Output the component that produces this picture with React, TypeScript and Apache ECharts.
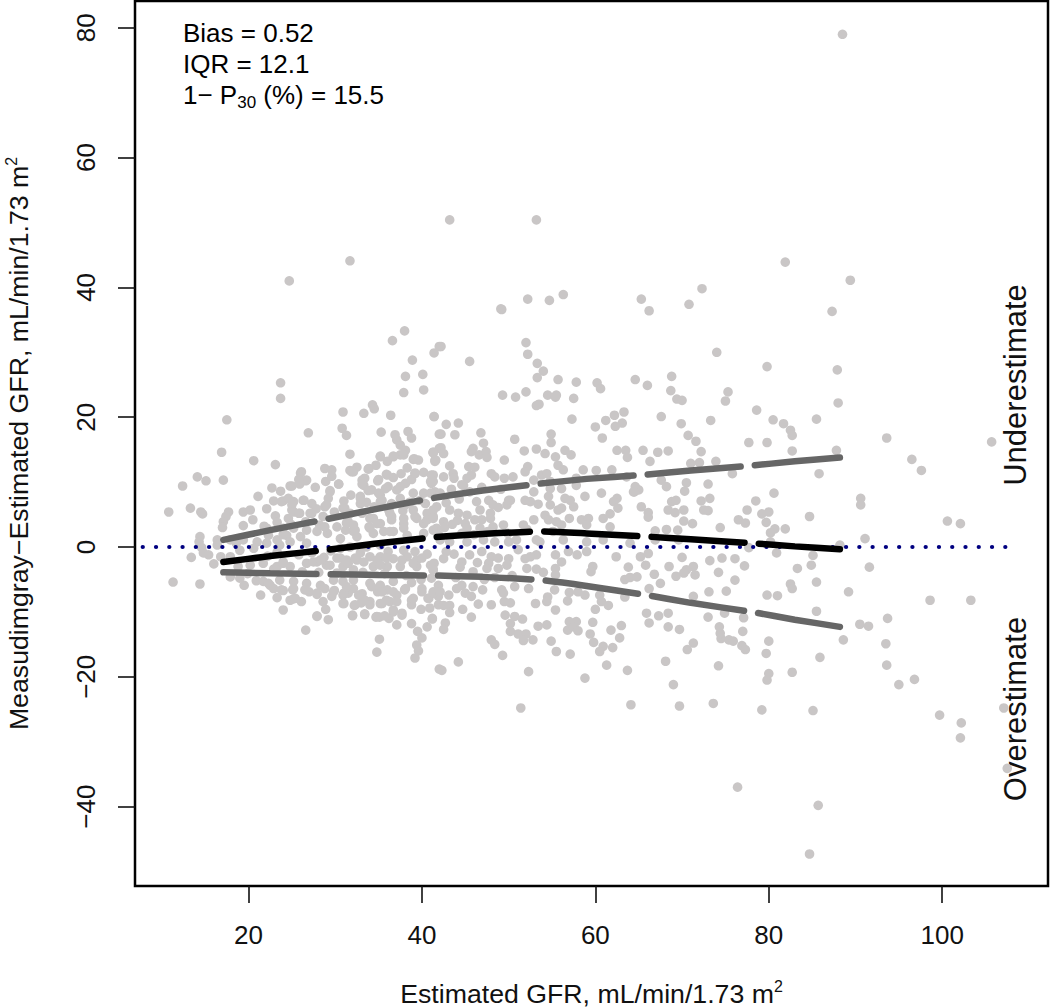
import React, { useEffect, useRef } from "react";
import * as echarts from "echarts";

const xTicks = [20, 40, 60, 80, 100];
const yTicks = [-40, -20, 0, 20, 40, 60, 80];

const upperOutliers = [[88.5,79],[43.2,50.4],[53.2,50.4],[31.7,44.1],[24.7,41],[38,33.3],[36.6,31.8],[42,30.9],[41.4,29.9],[38.9,28.8],[38.1,26.3],[40.1,26.6],[37.9,23.8],[40.2,24.2],[23.7,25.3],[23.7,22.9],[72.3,39.8],[70.8,37.4],[65.3,38.2],[66.2,36.4],[56.3,38.9],[54.7,38],[52.2,38.2],[49.2,36.6],[49.1,36.7],[42.2,30.9],[45.5,28.6],[52,31.5],[52.2,29.7],[53.3,28.3],[54,27.1],[53.3,26.1],[55.7,25.8],[57.8,25.4],[60.2,25.3],[60.6,24.4],[64.6,25.8],[66,24.9],[68.8,26.3],[68.7,24.1],[69.4,22.8],[70,22.6],[74,30],[75.3,23.9],[75,22.5],[49.3,23.4],[50.8,23.1],[52,23.9],[54.5,23.4],[55.5,23.4],[55.4,23.1],[57.5,22.9],[53.5,22],[53.2,21.8],[81.9,43.9],[89.4,41.1],[87.3,36.3],[79.8,27.8],[87.9,27.3],[88,22.2],[78.6,21.1]];

const leftUpper = [[30.9,20.8],[33.3,20.6],[34.3,21.9],[34.5,21.3],[36.4,20.3],[41.4,20.1],[17.5,19.6],[30.8,18.3],[31.3,17.2],[26.9,17.6],[35.3,17.7],[38.4,17.8],[38.8,16.8],[42,17.4],[36.9,17.3],[37.1,16.5],[37.5,15.7],[38.1,14.9],[31.7,14.3],[35.2,13.9],[36,13.2],[36.7,13.9],[37.5,14.2],[39.1,13.6],[39.6,13.4],[41.3,14.6],[42,15.2],[41.5,13.4],[16.9,14.6],[20.6,13.3],[23.1,12.7],[28.8,12.1],[29.6,11.9],[26.1,11.6],[32.5,12.3],[31.7,11.8],[33.9,12.1],[38.3,12.2],[12.4,9.4],[14.1,10.8],[15.1,10.2],[17.1,10.3],[10.8,5.4],[13.3,6],[14.5,5.4],[14.7,5.1],[17.7,5.4],[17.4,4.7],[17.1,3.9],[17,3],[14.4,1.6],[14.3,0.8],[16.4,1.1],[16.4,0.3],[26.7,10.3],[25.9,9.7],[24.8,9.4],[28.9,10.1],[30.4,9.7],[22.7,9.1],[21.1,7.8],[22.9,7.1],[24,7.1],[25.2,7],[26.3,7.2],[27.3,6.7],[29.4,8.5],[29.2,7.5],[28.8,6.2],[31.8,8],[32.9,7.8],[32.9,6.7],[32.1,11.6],[33.1,10.3],[33.3,9.5],[34.2,8.8],[34.9,10.2],[36,11.1],[36.7,10.7],[36.1,9.3],[35.2,8],[37.1,8.8],[38.1,9.8],[39.2,11.3],[40.2,11.5],[41.1,11.1],[41.1,9.8],[41.5,8.5],[39,8.3],[40.2,8.3],[37.5,7.5],[36.5,6.7],[35.2,7],[19.4,5.4],[20.2,5.7],[19.4,3.3],[23.1,4.8],[23.3,3.8],[25,5.7],[25.9,5.2],[27.1,5.2],[28.6,4.7],[30.9,6],[31.5,3.9],[32.1,3.4],[34.4,4.4],[35.2,3.6],[36.5,4.7],[37.9,3.6],[39.4,4.4],[40.6,5.2],[41.3,4.7],[39,5.7],[40.2,3.6],[41.7,2.9],[27.9,2.4],[26.7,2.6],[25.2,2.9],[24,2.9],[22.3,1.8],[23.3,1.1],[24.4,1.8],[26,1.6],[21,0.8],[19.4,1.1],[17.9,1.1],[18.6,0.6],[30.6,1.3],[32.1,2.4],[32.5,1.6],[34.4,2.1],[35.6,2.4],[36.7,2.4],[38.3,1.8],[40.2,2.1],[41.3,2.6],[20.5,4.2],[21.8,3.2],[22.1,5.9],[24.6,4.4],[26.6,3.9],[27.8,5.9],[29.9,5.4],[30.2,3.1],[33.1,5.2],[33.9,3.1],[33.6,6.9],[37.8,5.6],[38.6,6.9],[40.4,6.7],[31.2,2.6],[29.1,2.1],[28.2,3.4],[24.9,3.5],[29.6,10.9],[34.7,12.6],[37.6,11.3],[38.8,10.4],[27.7,9.2],[23.7,8.6],[31,7.1],[34.5,6.2],[36.2,5.6]];

const leftUpperFill = [[26,11.4],[26.6,10.2],[25.8,10.4],[25,9.4],[30.4,9.7],[31.9,11.6],[33.8,12],[33.4,10.6],[33.1,9.7],[35,10.4],[35.9,11.2],[35.8,9],[37.5,9.3],[35.2,14],[36.7,14],[37.9,14.2],[39,13.5],[39.2,11.4],[41,10.1],[41.5,13.2],[41.3,14.5],[23.8,7],[24.6,7.5],[26.4,7.2],[29.4,8.7],[29,6.5],[33.8,8.7],[35,8.3],[35.4,7.2],[32.9,7.5],[31.1,6],[25,6.5],[25.2,5.4],[25.8,5.2],[27.3,5.2],[31.7,5.2],[34,4.4],[34.8,3.6],[36.3,5.2],[36.5,4.2],[37.9,4.4],[39.8,7.2],[38.1,6.5],[41,8.3],[41.7,6.2],[39.2,4.7],[40.6,4.2],[34,2.9],[31.3,3.7],[32.3,2.6],[36.3,2.4],[37.9,2.9],[28.8,3.1],[24,1.9],[22.1,2.9]];

const leftLower = [[14.6,-0.1],[14.8,-0.9],[15.4,-1.2],[13.4,-1.6],[16,-2.6],[16.8,-1.5],[11.3,-5.4],[14.4,-5.7],[19.5,-5.9],[21.4,-7.4],[20.9,-5.2],[23.3,-7.8],[24,-9.7],[24.8,-8.2],[25.2,-8],[26.1,-8.4],[26.6,-12.8],[27.9,-10.7],[29.2,-11.2],[28.6,-8.4],[29.6,-7.6],[29.9,-6.7],[27.9,-7.3],[24,-6.7],[25.1,-6.6],[22.5,-5.9],[30.9,-8.7],[32.2,-9],[32,-10.6],[33.4,-10.4],[34.7,-10.8],[35.1,-10.8],[35.1,-14.2],[34.8,-16.2],[39.2,-17.1],[39.6,-16],[39.4,-15.1],[40,-14],[39.5,-13],[38.8,-11.8],[40.6,-12.3],[41.2,-11],[37.1,-12],[36.2,-11],[37.7,-10.2],[36.7,-10],[34,-8.4],[35.4,-8.7],[36.3,-8.4],[37.1,-7.4],[38,-6.6],[40,-6.4],[38.8,-8.2],[40.7,-7.9],[41.5,-7.1],[41.9,-8.9],[42,-18.8],[19,-0.5],[20.6,-0.2],[22.1,0.6],[23.6,0.3],[24.8,0.8],[26.7,0.6],[30.6,-0.2],[31.7,0],[33.6,0],[35.2,0.3],[37.9,-0.5],[17.9,-1.5],[20.2,-2.8],[21.7,-2.5],[24,-2.3],[24.8,-3],[26.7,-2.5],[27.9,-2.3],[29,-2.8],[30.2,-1.7],[31.3,-2],[32.5,-2],[34,-1.5],[35.2,-1.5],[36.7,-1.8],[38.3,-1.5],[39.4,-2],[41,-2.8],[41.3,-3.5],[30.9,-3],[32.1,-3.5],[34.4,-3],[36,-3],[37.5,-3],[39.4,-3],[17.9,-4.6],[19,-4.8],[21.7,-5.3],[23.6,-5.1],[25.2,-5.3],[26.7,-5.6],[28.3,-5.9],[29.8,-5.1],[30.9,-5.3],[32.1,-5.1],[32.1,-6.4],[34,-5.6],[35.2,-5.9],[36.7,-5.3],[41.1,-4.8],[41.9,-5.9],[30.9,-7.4],[31.5,-7.1],[22.2,-1.4],[23.3,-0.8],[25.8,-1.2],[27.3,-0.9],[28.7,-1.6],[29.5,-0.6],[32.9,-0.9],[36.1,-0.7],[39.2,-0.7],[40.6,-1.1],[33.2,-3.9],[35.7,-4.1],[38.2,-4.4],[39.9,-5],[28.1,-3.9],[30.2,-4],[26.2,-3.8],[22.9,-3.4],[18.8,-3],[19.9,-4.1],[33.1,-7.2],[34.9,-6.9],[38.8,-5.5],[27,-6.9],[28.9,-9.6],[33,-8.6],[36,-6.6],[39.9,-9.6],[40.9,-9.4]];

const leftLowerFill = [[23.3,-3],[24,-2.5],[27.5,-2.3],[28.3,-2],[29.4,-2.8],[30.6,-1.7],[31.5,-2.5],[32.3,-1.7],[33.3,-2.3],[34.8,-2],[35.9,-1.7],[37.7,-2],[39,-2.5],[40,-1.7],[35.2,-2.8],[22.3,-5.6],[22.9,-6.4],[23.8,-6.6],[25.4,-7.9],[25.2,-6.4],[26.5,-6.6],[27.9,-7.1],[28.8,-6.4],[29.8,-6.9],[31,-7.1],[31.3,-6.1],[31,-8.7],[32.3,-8.9],[32.7,-7.4],[33.4,-8.2],[34,-8.9],[34.2,-6.1],[35.4,-6.9],[36.7,-6.9],[38.1,-6.4],[40,-6.9],[38.8,-8.9],[39,-7.9],[37.1,-8.4],[35.9,-8.2],[35.2,-8.7],[36.7,-9.7],[40.8,-7.9],[41.3,-6.9],[41.9,-7.6],[27.9,-10.6],[32,-10.5],[33.4,-10.3],[34.8,-10.7],[35.7,-10.6],[37.7,-10.5]];

const midUpper = [[41.4,20.1],[42.8,18.9],[44.2,19.1],[42.2,17.4],[43.8,17.3],[46.8,17.6],[47.1,16],[45.9,15.2],[45.7,14.7],[46.6,14.2],[47.4,14.7],[47.5,13.8],[42.2,15.3],[42.5,14.4],[41.3,14.6],[41.6,13.4],[43.2,12.5],[45.4,12.4],[46.1,12.3],[50.7,16.6],[49.5,13.4],[51.8,14.8],[53.2,15.1],[54.2,14.4],[54.9,17.4],[54.9,16.1],[56.5,14.9],[57.2,14.2],[55.4,13.9],[55.7,12.6],[52.2,12.4],[56.3,11.9],[58.6,11.9],[60.1,11.8],[61.9,11.9],[57.3,19.7],[63.3,20.8],[62.2,20.3],[61.2,19.5],[63.1,19.1],[62.3,18.6],[60,18.5],[60.8,16.8],[67.6,20.1],[69.9,19],[73.3,19.5],[70.7,17.2],[71.6,16.3],[72.2,14.7],[68.4,14.8],[67.2,14.6],[65.5,14.9],[66.3,13.2],[62.5,14.9],[63.5,14.9],[63.7,13.8],[73.9,13.2],[72,13],[71,12.9],[41.3,11.1],[42.5,10.8],[43.6,11.3],[45.7,11.1],[48,11.3],[48.4,10.8],[49.5,10.6],[50.5,10.8],[51.9,11.6],[53.8,11.1],[54.4,11.3],[63.6,10.8],[64.6,9.3],[64.4,8.5],[65,8.8],[67.6,10.3],[68.2,9.3],[70.5,9.9],[70.3,8.6],[73,9.7],[44.8,9.5],[42.1,8.3],[41.3,10.1],[45.5,8.5],[52.9,8.5],[54.8,9],[56.1,9],[57.8,9.5],[60.7,8.3],[58.8,7.8],[62.5,7.5],[62.1,7],[62.6,6],[50,7.2],[49.8,6.5],[51.9,7.2],[52.5,7],[53.4,6.6],[54.6,7.8],[54.8,6.5],[56.5,7.5],[57.1,7.2],[57.5,6.2],[56.1,6],[55.7,5.7],[65.3,6.2],[66.1,5.3],[66.1,4.6],[68.8,7],[69.3,7.2],[68.4,5.7],[69.2,5.3],[70.2,5.7],[70.2,4],[71.2,3.6],[72.2,7.1],[73.2,7.5],[72.5,5.7],[73,5.6],[74.4,3],[46.3,7],[47.7,7.2],[48.2,6.5],[48.8,6.1],[46.7,5.7],[47.9,5.2],[43.2,5.7],[44.2,5.2],[45.2,4.9],[46.1,4.2],[46.9,4.2],[47.9,4.4],[42.5,3.9],[43.5,3.5],[45,3.6],[45.2,2.9],[41.3,5.7],[41.3,4.4],[46.7,2.9],[48.2,3.1],[49.4,3.4],[51.7,3.4],[52.9,4.2],[54.2,4.9],[54.6,4.2],[55.5,3.9],[56.1,3.4],[57,4.4],[58.4,4.2],[59.2,4.4],[59,3.4],[60.9,4.4],[61.7,5.1],[61.7,3.1],[68.2,2.7],[69.5,2.6],[66.9,2.5],[42.1,1.1],[43.2,0.8],[45.2,0.8],[47.1,1.1],[48.4,0.8],[50,0.8],[50.9,1.1],[53.2,1.1],[53.6,0.8],[56.3,1.1],[59,0.8],[60.9,1.1],[64,0.6],[66.9,1.1],[69.6,1.1],[43.4,8.9],[44.3,7.4],[46.9,9.2],[49.1,8.9],[42.8,6.8],[44.6,2.1],[47.6,2.4],[49.9,2.1],[52.1,2.7],[55.1,2.4],[43.7,10.6],[45.2,10.6],[44.6,9.6],[52.9,10.3],[54.8,10.1],[57.8,10.6],[64.5,8.5],[50.2,7.2],[42.6,3],[44.1,4.1],[46,1.9],[41.9,1.9]];

const midLower = [[42.8,-0.7],[42.5,-1.8],[45.5,-1.2],[44.6,-2.3],[44.4,-3.1],[48,-1.5],[48.8,-1.7],[50,-1.8],[49.8,-2.8],[47.7,-2.5],[47.5,-3.3],[48.8,-3.3],[51.9,-1.8],[53.2,-1.2],[52.5,-1.5],[52.1,-3.3],[55.4,-1.2],[56.1,-2.3],[56.9,-0.7],[57.9,-1.2],[59,-0.7],[62.4,-1.5],[65.2,-1.5],[65.8,-2.8],[66.1,-1],[70,-1.6],[68.5,-3],[71.3,-3],[70.5,-3.5],[71.5,-4.3],[69.3,-4.5],[70.2,-4],[73.2,-2.1],[74.6,-1.7],[74.2,-3.9],[63.8,-3.1],[59.7,-3],[59.5,-3.8],[55.4,-3.3],[54,-3.9],[55.4,-4.3],[45.9,-3.8],[41.4,-2.5],[41.3,-3.5],[63.4,-5],[64,-4.7],[64.8,-4.6],[66.8,-4.2],[67.5,-5.6],[66.2,-6.4],[71.3,-7.6],[73.1,-6.9],[75.1,-6.8],[55.3,-6.6],[57,-7],[58,-6.9],[58.8,-7.4],[60.5,-7.4],[63.4,-7.7],[54.5,-7.7],[54.4,-8.4],[56.8,-8.3],[53.1,-8.7],[55.4,-9.7],[44.6,-5.9],[45.9,-6.1],[45,-7.1],[45.7,-7.6],[47,-6.6],[49.2,-6.6],[49.4,-7.1],[50.7,-6.1],[52.3,-6.4],[41.3,-7.1],[42.1,-6.9],[43.1,-7.4],[42.5,-9],[43.2,-9],[43.2,-10.1],[44.7,-9.6],[46.5,-8.8],[48,-8.9],[49.5,-8.4],[50.2,-8.6],[45.7,-10.8],[41.2,-11.1],[42.7,-11.7],[42.5,-12.7],[49.6,-10.5],[50.7,-10.7],[51.6,-11.1],[50.2,-11.8],[50.2,-13],[51.1,-13.4],[52,-13.4],[51.7,-14.4],[52.8,-14.3],[48,-14.3],[48.4,-15],[49.3,-16.7],[53.4,-12.2],[54.4,-12],[54.9,-14.5],[55.5,-16.1],[57.1,-16.5],[56.8,-12.8],[57,-11.5],[57.8,-11.5],[57.5,-12.3],[58,-12.9],[59.4,-13.4],[59.7,-11.6],[60,-9.6],[60.7,-8.4],[61.5,-9],[61.8,-12.8],[63,-12.1],[62.8,-14],[59.8,-14.7],[60.9,-15.3],[60.5,-16.1],[62,-15.5],[61.3,-18.2],[63.7,-19],[58.8,-20.2],[52.3,-19.2],[44.2,-17.7],[42.3,-19],[51.4,-24.8],[64.1,-24.3],[69.7,-24.5],[73.6,-24.1],[69,-21.2],[68.1,-17.6],[74.2,-18.3],[70.6,-15.8],[71.3,-14.8],[74.5,-14.1],[74.4,-13.3],[74.3,-12.3],[75.4,-14.3],[69.7,-12.7],[68.4,-12.3],[66.2,-11.7],[65.9,-10.2],[67.3,-10.6],[68.4,-10.2],[73,-10.8],[74.9,-10.2],[43.7,-1.1],[46.4,-2.4],[51.1,-0.4],[43.9,-4.7],[47.2,-5],[50.4,-4.4],[46.9,-0.7],[44,-6.4],[48.4,-4.7],[53.2,-3.4]];

const rightPoints = [[80.5,19.6],[81.7,19],[82.5,18],[82.7,17.2],[85.5,19.7],[77.7,16.1],[79.8,16.1],[82.7,14.8],[87.8,14.9],[93.6,16.8],[105.7,16.2],[96.5,13.5],[97.6,11.8],[85.8,11.3],[75.8,11.3],[80.6,8.3],[78.5,7.1],[90.6,7.5],[90.6,6.5],[77.5,5.7],[80,5.4],[79.2,5.1],[76.5,4.2],[77.3,3.7],[79.7,3.8],[84.7,4.7],[100.6,4],[102.1,3.6],[81.9,2.8],[80.7,2.8],[80.2,2.2],[91.1,1.3],[88.2,0.3],[80.2,0.8],[77.7,-0.1],[80.9,-0.9],[85.1,-1.3],[76.1,-1.8],[77.2,-2.9],[83.3,-3.3],[84.9,-2.8],[91.6,-3.1],[76.1,-5.1],[82.5,-5.7],[82.7,-6.4],[85.5,-5.4],[79.8,-7.4],[81,-7.5],[89.2,-6.9],[98.6,-8.2],[103.3,-8.2],[85.5,-9.9],[90.5,-11.9],[91.5,-12.2],[93.7,-11],[77.1,-10.9],[77,-13],[75.9,-14.5],[76.9,-15.2],[77.3,-15.8],[80,-14.5],[79.7,-16.4],[88.6,-14.3],[93.5,-14.9],[93.6,-18.2],[85.9,-17],[82.7,-19.3],[80,-19.5],[79.8,-20.5],[95,-21.2],[96.8,-20.4],[79.2,-25.1],[85.1,-25.2],[99.7,-25.9],[102.2,-27.1],[102.1,-29.4],[107.1,-24.8],[107.5,-34.1],[76.4,-37],[85.7,-39.8],[84.7,-47.3]];

const smoothUpper = [[17.1,1.1],[22.5,2.6],[29,4.3],[34.5,5.8],[41.1,7.5],[47,8.7],[53.2,9.7],[59,10.5],[65.3,11.1],[71,11.8],[77.6,12.5],[83,13.2],[88.2,13.8]];
const smoothMiddle = [[17.1,-2.3],[22.5,-1.4],[29.2,-0.4],[34.5,0.5],[41.4,1.5],[47,2],[53.6,2.4],[59,2.1],[66,1.6],[71,1.2],[78,0.6],[83,0.1],[88.2,-0.36]];
const smoothLower = [[17.1,-3.9],[22.5,-4.05],[29.4,-4.2],[35,-4.3],[41.6,-4.4],[47,-4.6],[53.8,-5.1],[59,-6],[65.9,-7.4],[71,-8.6],[78,-10],[83,-11.2],[88.2,-12.3]];
const zeroLine = [[7.8,0],[107.4,0]];

const FONT = "'Liberation Sans', Arial, sans-serif";
const richStyles = {
  b: { fontSize: 26.7, lineHeight: 32, fontFamily: FONT, color: "#111" },
  n: { fontSize: 26, lineHeight: 32, fontFamily: FONT, color: "#111" },
  sup: { fontSize: 16, lineHeight: 16, verticalAlign: "top", fontFamily: FONT, color: "#111" },
  sub: { fontSize: 17, lineHeight: 17, verticalAlign: "bottom", fontFamily: FONT, color: "#111" },
};

function curve(data: number[][], color: string) {
  return {
    type: "line",
    data,
    symbol: "none",
    smooth: 0.2,
    silent: true,
    lineStyle: { color, width: 6.5, cap: "round", type: [93, 14.5] },
  };
}

export default function App() {
  const ref = useRef<HTMLDivElement>(null);
  useEffect(() => {
    document.body.style.margin = "0";
    const chart = echarts.init(ref.current!, null, { renderer: "svg" });
    const tickStyle = { show: true, length: 17, lineStyle: { color: "#111", width: 1.6 } };
    const note = (text: string, top: number) => ({
      type: "text",
      left: 183,
      top,
      style: { text, rich: richStyles, font: `26px ${FONT}` },
    });
    const sideLabel = (text: string, y: number) => ({
      type: "text",
      x: 1015,
      y,
      rotation: Math.PI / 2,
      style: { text, font: `31px ${FONT}`, fill: "#111", align: "center", verticalAlign: "middle" },
    });
    chart.setOption({
      animation: false,
      backgroundColor: "#fff",
      grid: {
        show: true,
        left: 135,
        right: 2,
        top: 1,
        bottom: 122,
        outerBoundsMode: "none",
        containLabel: false,
        borderColor: "#000",
        borderWidth: 2.5,
        backgroundColor: "transparent",
      },
      xAxis: {
        type: "value",
        min: 6.91,
        max: 112.2,
        splitLine: { show: false },
        axisLine: { show: false, onZero: false },
        axisTick: { ...tickStyle, customValues: xTicks },
        axisLabel: { customValues: xTicks, margin: 36, fontSize: 26, fontFamily: FONT, color: "#111" },
        name: "{b|Estimated GFR, mL/min/1.73 m}{sup|2}",
        nameLocation: "middle",
        nameGap: 92,
        nameTextStyle: { rich: richStyles },
      },
      yAxis: {
        type: "value",
        min: -52.23,
        max: 84.13,
        splitLine: { show: false },
        axisLine: { show: false, onZero: false },
        axisTick: { ...tickStyle, customValues: yTicks },
        axisLabel: {
          customValues: yTicks,
          margin: 36,
          rotate: 90,
          fontSize: 26,
          fontFamily: FONT,
          color: "#111",
          formatter: (v: number) => String(v).replace("-", "\u2212"),
        },
        name: "{b|Measudimgray\u2212Estimated GFR, mL/min/1.73 m}{sup|2}",
        nameLocation: "middle",
        nameGap: 100,
        nameTextStyle: { rich: richStyles },
      },
      graphic: [
        note("{n|Bias = 0.52}", 20),
        note("{n|IQR = 12.1}", 51),
        note("{n|1\u2212 P}{sub|30}{n| (%) = 15.5}", 82),
        sideLabel("Underestimate", 385),
        sideLabel("Overestimate", 709),
      ],
      series: [
        {
          type: "scatter",
          silent: true,
          symbolSize: 9.6,
          itemStyle: { color: "#C9C6C6", opacity: 1 },
          data: [...upperOutliers, ...leftUpper, ...leftUpperFill, ...leftLower, ...leftLowerFill, ...midUpper, ...midLower, ...rightPoints],
        },
        {
          type: "line",
          data: zeroLine,
          symbol: "none",
          silent: true,
          lineStyle: { color: "#000080", width: 4.2, cap: "round", type: [0.1, 13.17] },
        },
        curve(smoothUpper, "#666666"),
        curve(smoothLower, "#666666"),
        curve(smoothMiddle, "#000000"),
      ],
    });
    return () => chart.dispose();
  }, []);
  return <div ref={ref} style={{ width: 1050, height: 1008, overflow: "hidden" }} />;
}
